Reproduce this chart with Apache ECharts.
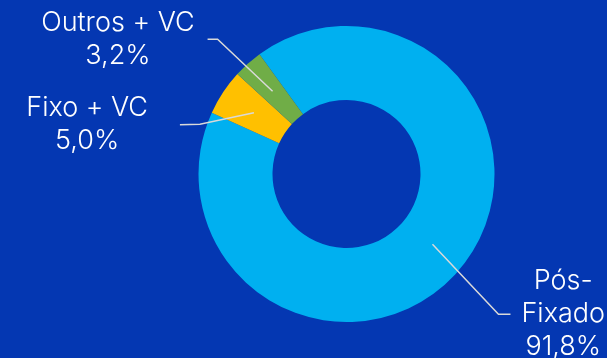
<!DOCTYPE html>
<html><head><meta charset="utf-8">
<script src="https://cdn.jsdelivr.net/npm/echarts@6/dist/echarts.min.js"></script>
<style>html,body{margin:0;padding:0;background:#0437b2;} #c{width:607px;height:358px;}</style>
</head><body><div id="c"></div>
<script>
const categories = ['Pós-Fixado', 'Fixo + VC', 'Outros + VC'];
const values = [91.8, 5.0, 3.2];
const colors = ['#00b0f0', '#ffc000', '#70ad47'];
// label guide offsets relative to the library-computed start of each label line
const labelGuides = [
  { bend: [66, 70], end: [78, 70], gap: 11 },
  { bend: [-54, 11.5], end: [-74, 12], gap: 32 },
  { bend: [-55, -52], end: [-65, -52], gap: 13 }
];

const chart = echarts.init(document.getElementById('c'), null, { renderer: 'canvas' });
const data = categories.map((n, i) => ({ name: n, value: values[i], itemStyle: { color: colors[i] } }));
const fmt = v => v.toFixed(1).replace('.', ',') + '%';
chart.setOption({
  backgroundColor: '#0437b2',
  animation: false,
  series: [
    {
      type: 'pie',
      z: 1,
      center: [346.5, 174],
      radius: [74, 148],
      startAngle: 126,
      clockwise: true,
      silent: true,
      label: { show: false },
      labelLine: { show: false },
      itemStyle: { borderWidth: 0 },
      data: data
    },
    {
      type: 'pie',
      z: 5,
      center: [346.5, 174],
      radius: [0, 111],
      startAngle: 126,
      clockwise: true,
      silent: true,
      itemStyle: { color: 'rgba(0,0,0,0)', borderWidth: 0 },
      label: {
        show: true,
        position: 'outside',
        color: '#ffffff',
        fontFamily: 'Inter',
        fontWeight: 300,
        fontSize: 27,
        lineHeight: 33,
        formatter: p => p.name.replace('-', '-\n') + '\n' + fmt(p.value)
      },
      labelLine: { show: true, length: 40, length2: 10, lineStyle: { color: '#d9d9d9', width: 1.5 } },
      labelLayout: function (p) {
        const g = labelGuides[p.dataIndex];
        const s = p.labelLinePoints[0];
        const bend = [s[0] + g.bend[0], s[1] + g.bend[1]];
        const end = [s[0] + g.end[0], s[1] + g.end[1]];
        const dir = g.end[0] > g.bend[0] ? 1 : -1;
        const w = p.labelRect.width;
        return {
          x: end[0] + dir * (g.gap + w / 2),
          y: end[1],
          align: 'center',
          verticalAlign: 'middle',
          labelLinePoints: [s, bend, end]
        };
      },
      data: categories.map((n, i) => ({ name: n, value: values[i] }))
    }
  ]
});
</script></body></html>
